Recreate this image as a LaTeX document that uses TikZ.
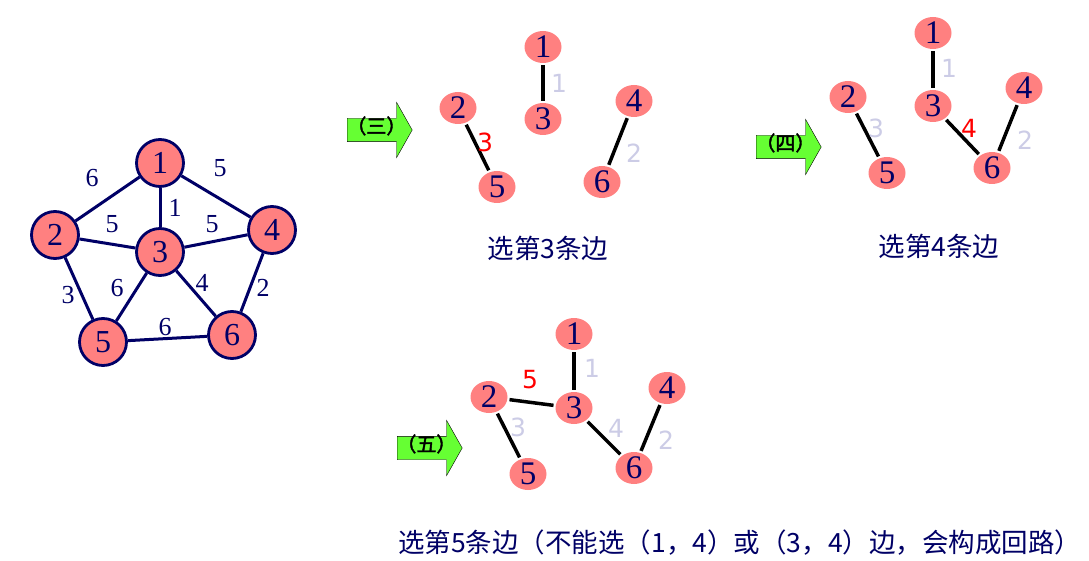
\documentclass[tikz,border=0pt]{standalone}
\usepackage{fontspec}
\setmainfont{Liberation Serif}
\newfontfamily\cjk{Noto Sans CJK SC}
\newfontfamily\cjkbold[FakeBold=2]{Noto Sans CJK SC}
\newfontfamily\lblfont{DejaVu Sans}
\usepackage{tikz}
\usetikzlibrary{shapes.geometric,shapes.arrows}
\definecolor{nodefill}{HTML}{FF8080}
\definecolor{navy}{HTML}{000066}
\definecolor{lavender}{HTML}{CCCCE6}
\definecolor{arrowgreen}{HTML}{66FF33}

\begin{document}
\begin{tikzpicture}[x=1pt,y=-1pt,
  vertex/.style={circle,draw=navy,line width=2.8pt,fill=nodefill,minimum size=47pt,inner sep=0pt,
    text=navy,font=\fontsize{32}{32}\selectfont},
  gedge/.style={navy,line width=3pt},
  wlabel/.style={text=navy,inner sep=0pt,font=\fontsize{26}{26}\selectfont},
  tnode/.style={ellipse,fill=nodefill,minimum width=37pt,minimum height=32pt,inner sep=0pt,
    text=navy,font=\fontsize{33}{33}\selectfont},
  tedge/.style={black,line width=3.5pt,shorten <=2pt,shorten >=2pt},
  oldw/.style={text=lavender,inner sep=0pt,font=\lblfont\fontsize{25}{25}\selectfont},
  neww/.style={text=red,inner sep=0pt,font=\lblfont\fontsize{25}{25}\selectfont},
  stagearrow/.style={single arrow,draw=black,fill=arrowgreen,anchor=tail,
    single arrow head extend=16pt,single arrow tip angle=121,minimum height=65pt,
    text height=10pt,text depth=3pt,inner ysep=5pt,inner xsep=-4pt,
    font=\cjkbold\fontsize{20}{20}\selectfont},
  caption/.style={text=navy,inner sep=0pt,font=\cjk\fontsize{26.5}{26.5}\selectfont}
]
  \useasboundingbox (0,0) rectangle (1089,561);

  % original graph
  \node[vertex] (g1) at (160,163) {1};
  \node[vertex] (g2) at (55,235) {2};
  \node[vertex] (g3) at (160,252) {3};
  \node[vertex] (g4) at (272,230) {4};
  \node[vertex] (g5) at (103,342) {5};
  \node[vertex] (g6) at (232,335) {6};
  \draw[gedge] (g1) -- (g2);
  \draw[gedge] (g1) -- (g3);
  \draw[gedge] (g1) -- (g4);
  \draw[gedge] (g2) -- (g3);
  \draw[gedge] (g3) -- (g4);
  \draw[gedge] (g2) -- (g5);
  \draw[gedge] (g3) -- (g5);
  \draw[gedge] (g3) -- (g6);
  \draw[gedge] (g4) -- (g6);
  \draw[gedge] (g5) -- (g6);
  \node[wlabel] (w12) at (92,178) {6};
  \node[wlabel] (w14) at (220,168) {5};
  \node[wlabel] (w13) at (175,208) {1};
  \node[wlabel] (w23) at (112,224) {5};
  \node[wlabel] (w34) at (212,224) {5};
  \node[wlabel] (w25) at (68,295) {3};
  \node[wlabel] (w35) at (117,288) {6};
  \node[wlabel] (w36) at (202,283) {4};
  \node[wlabel] (w46) at (263,288) {2};
  \node[wlabel] (w56) at (165,327) {6};

  % step three
  \node[stagearrow] (s3) at (347,130) {（三）};
  \node[tnode] (a1) at (543,47) {1};
  \node[tnode] (a3) at (543,119) {3};
  \node[tnode] (a2) at (458,108) {2};
  \node[tnode] (a5) at (497,187) {5};
  \node[tnode] (a4) at (634,101) {4};
  \node[tnode] (a6) at (602,182) {6};
  \draw[tedge] (a1) -- (a3);
  \draw[tedge] (a2) -- (a5);
  \draw[tedge] (a4) -- (a6);
  \node[oldw] (x13) at (559,83) {1};
  \node[neww] (x25) at (485,142) {3};
  \node[oldw] (x46) at (634,153) {2};
  \node[caption] (cap3) at (548,248) {选第3条边};

  % step four
  \node[stagearrow] (s4) at (756,147) {（四）};
  \node[tnode] (b1) at (933,33) {1};
  \node[tnode] (b3) at (933,106) {3};
  \node[tnode] (b2) at (848,97) {2};
  \node[tnode] (b5) at (887,173) {5};
  \node[tnode] (b4) at (1024,88) {4};
  \node[tnode] (b6) at (992,168) {6};
  \draw[tedge] (b1) -- (b3);
  \draw[tedge] (b2) -- (b5);
  \draw[tedge] (b3) -- (b6);
  \draw[tedge] (b4) -- (b6);
  \node[oldw] (y13) at (949,68) {1};
  \node[oldw] (y25) at (876,128) {3};
  \node[neww] (y36) at (969,128) {4};
  \node[oldw] (y46) at (1025,140) {2};
  \node[caption] (cap4) at (939,246) {选第4条边};

  % step five
  \node[stagearrow] (s5) at (397,448) {（五）};
  \node[tnode] (c1) at (574,334) {1};
  \node[tnode] (c3) at (574,408) {3};
  \node[tnode] (c2) at (489,397) {2};
  \node[tnode] (c5) at (528,474) {5};
  \node[tnode] (c4) at (667,388) {4};
  \node[tnode] (c6) at (634,468) {6};
  \draw[tedge] (c1) -- (c3);
  \draw[tedge] (c2) -- (c3);
  \draw[tedge] (c2) -- (c5);
  \draw[tedge] (c3) -- (c6);
  \draw[tedge] (c4) -- (c6);
  \node[neww] (z23) at (530,380) {5};
  \node[oldw] (z13) at (592,368) {1};
  \node[oldw] (z25) at (518,427) {3};
  \node[oldw] (z36) at (616,428) {4};
  \node[oldw] (z46) at (666,440) {2};
  \node[caption,anchor=west] (cap5) at (398,543) {选第5条边（不能选（1，4）或（3，4）边，会构成回路）};
\end{tikzpicture}
\end{document}
